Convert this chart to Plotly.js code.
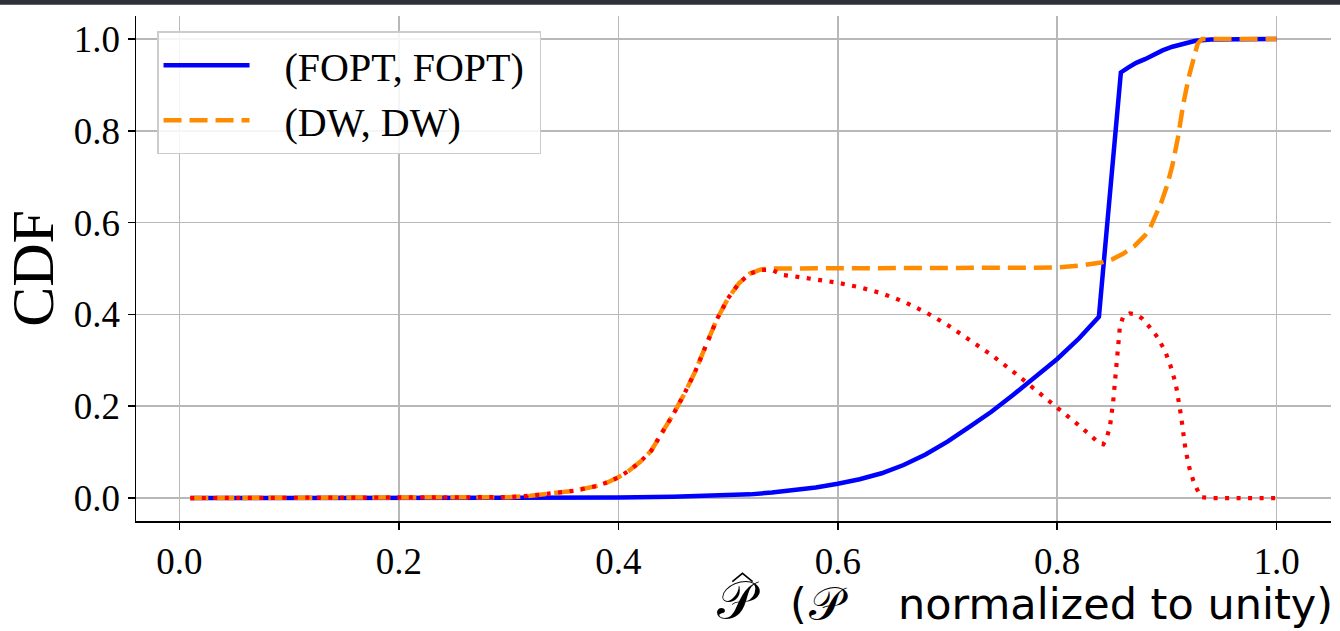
<!DOCTYPE html>
<html>
<head>
<meta charset="utf-8">
<script src="https://cdn.plot.ly/plotly-3.0.1.min.js"></script>
<style>
  html, body { margin: 0; padding: 0; background: #ffffff; }
  #chart { width: 1340px; height: 631px; }
</style>
</head>
<body>
<div id="chart"></div>
<script>
// CDF of the normalized quantity for the FOPT and DW pairs
const fopt_x = [0.01, 0.1, 0.2, 0.3, 0.35, 0.4, 0.45, 0.50, 0.52, 0.54, 0.56, 0.58, 0.60, 0.62, 0.64, 0.66, 0.68, 0.70, 0.72, 0.74, 0.76, 0.78, 0.80, 0.82, 0.838, 0.846, 0.858, 0.865, 0.872, 0.880, 0.888, 0.896, 0.905, 0.915, 0.926, 0.94, 0.96, 1.0];
const fopt_y = [0, 0, 0, 0, 0.0005, 0.001, 0.003, 0.006, 0.008, 0.012, 0.017, 0.023, 0.031, 0.041, 0.054, 0.072, 0.095, 0.123, 0.155, 0.188, 0.225, 0.264, 0.303, 0.348, 0.395, 0.608, 0.927, 0.938, 0.948, 0.956, 0.966, 0.975, 0.983, 0.990, 0.996, 0.999, 1.0, 1.0];

const dw_x = [0.01, 0.1, 0.2, 0.25, 0.30, 0.32, 0.34, 0.36, 0.38, 0.39, 0.40, 0.41, 0.42, 0.43, 0.44, 0.45, 0.46, 0.47, 0.48, 0.49, 0.50, 0.51, 0.52, 0.53, 0.54, 0.6, 0.7, 0.78, 0.80, 0.82, 0.84, 0.85, 0.86, 0.87, 0.88, 0.885, 0.89, 0.895, 0.90, 0.905, 0.91, 0.915, 0.92, 0.925, 0.928, 0.932, 0.95, 1.0];
const dw_y = [0, 0, 0, 0.0005, 0.002, 0.005, 0.010, 0.016, 0.026, 0.034, 0.045, 0.060, 0.079, 0.103, 0.143, 0.182, 0.226, 0.275, 0.333, 0.390, 0.435, 0.468, 0.489, 0.498, 0.500, 0.500, 0.500, 0.500, 0.502, 0.506, 0.513, 0.520, 0.532, 0.548, 0.572, 0.590, 0.615, 0.645, 0.680, 0.725, 0.785, 0.860, 0.918, 0.964, 0.990, 1.0, 1.0, 1.0];

// gap between the two CDFs
const gap_x = [0.01, 0.1, 0.2, 0.25, 0.30, 0.32, 0.34, 0.36, 0.38, 0.39, 0.40, 0.41, 0.42, 0.43, 0.44, 0.45, 0.46, 0.47, 0.48, 0.49, 0.50, 0.51, 0.52, 0.53, 0.54, 0.55, 0.56, 0.58, 0.60, 0.62, 0.64, 0.66, 0.68, 0.70, 0.72, 0.74, 0.76, 0.78, 0.80, 0.82, 0.838, 0.842, 0.845, 0.848, 0.851, 0.854, 0.857, 0.860, 0.866, 0.872, 0.878, 0.884, 0.890, 0.898, 0.903, 0.908, 0.911, 0.913, 0.915, 0.917, 0.921, 0.925, 0.931, 0.94, 1.0];
const gap_y = [0, 0, 0, 0.0005, 0.002, 0.005, 0.010, 0.016, 0.026, 0.034, 0.045, 0.060, 0.079, 0.103, 0.143, 0.182, 0.226, 0.275, 0.333, 0.390, 0.435, 0.468, 0.489, 0.497, 0.497, 0.486, 0.483, 0.477, 0.469, 0.459, 0.446, 0.428, 0.405, 0.377, 0.345, 0.312, 0.275, 0.236, 0.199, 0.158, 0.120, 0.117, 0.130, 0.155, 0.210, 0.300, 0.370, 0.395, 0.402, 0.400, 0.390, 0.373, 0.355, 0.322, 0.290, 0.249, 0.210, 0.177, 0.140, 0.104, 0.060, 0.031, 0.002, 0, 0];

const tick_vals = [0, 0.2, 0.4, 0.6, 0.8, 1.0];

const serif = '"Liberation Serif", "DejaVu Serif", serif';
const sans = '"DejaVu Sans", sans-serif';
const NB = '\u00a0\u00a0\u00a0';

const traces = [
  {
    x: fopt_x, y: fopt_y, type: 'scatter', mode: 'lines',
    name: NB + '(FOPT, FOPT)\u00a0', legendgroup: 'a',
    line: { color: '#0000ff', width: 4.5 }
  },
  {
    x: dw_x, y: dw_y, type: 'scatter', mode: 'lines',
    name: NB + '(DW, DW)', legendgroup: 'b',
    line: { color: '#ff8c00', width: 4.5, dash: '18px,8px' }
  },
  {
    x: gap_x, y: gap_y, type: 'scatter', mode: 'lines',
    name: 'gap', showlegend: false,
    line: { color: '#ff0000', width: 4.2, dash: '4px,7.5px' }
  }
];

const axisCommon = {
  showline: true, linecolor: '#000000', linewidth: 1.5,
  mirror: false, zeroline: false,
  showgrid: true, gridcolor: '#b8b8b8', gridwidth: 1.5,
  ticks: 'outside', ticklen: 7, tickwidth: 1.5, tickcolor: '#000000',
  tickvals: tick_vals, tickformat: '.1f',
  tickfont: { family: serif, size: 37, color: '#000000' }
};

const layout = {
  width: 1340, height: 631,
  margin: { l: 136, r: 9, t: 16, b: 110 },
  paper_bgcolor: '#ffffff', plot_bgcolor: '#ffffff',
  showlegend: true,
  xaxis: Object.assign({}, axisCommon, { range: [-0.0395, 1.0495] }),
  yaxis: Object.assign({}, axisCommon, {
    range: [-0.05, 1.05],
    title: { text: 'CDF', font: { family: serif, size: 60, color: '#000000' }, standoff: 12 }
  }),
  legend: {
    x: 0.0176, y: 0.97, xanchor: 'left', yanchor: 'top',
    bgcolor: 'rgba(255,255,255,0.85)', bordercolor: '#cccccc', borderwidth: 1.5,
    font: { family: serif, size: 40, color: '#000000' },
    itemwidth: 86, tracegroupgap: 0
  },
  annotations: [
    {
      // the hatted symbol (accent drawn as a shape below)
      xref: 'paper', yref: 'paper', x: 0.4845, y: -0.156,
      xanchor: 'left', yanchor: 'middle', showarrow: false,
      text: '𝒫',
      font: { family: sans, size: 52, color: '#000000' }
    },
    {
      xref: 'paper', yref: 'paper', x: 0.5456, y: -0.1644,
      xanchor: 'left', yanchor: 'middle', showarrow: false,
      text: '(',
      font: { family: sans, size: 43, color: '#000000' }
    },
    {
      xref: 'paper', yref: 'paper', x: 0.5615, y: -0.163,
      xanchor: 'left', yanchor: 'middle', showarrow: false,
      text: '𝒫',
      font: { family: sans, size: 47, color: '#000000' }
    },
    {
      xref: 'paper', yref: 'paper', x: 1.0033, y: -0.1644,
      xanchor: 'right', yanchor: 'middle', showarrow: false,
      text: 'normalized to unity)',
      font: { family: sans, size: 43, color: '#000000' }
    }
  ],
  shapes: [
    {
      // top frame strip
      type: 'rect', xref: 'paper', yref: 'paper', layer: 'above',
      x0: -0.2, x1: 1.2, y0: 1.0225, y1: 1.05,
      fillcolor: '#2f3138', line: { width: 0 }
    },
    {
      // circumflex accent over the hatted symbol
      type: 'path', xref: 'paper', yref: 'paper', layer: 'above',
      path: 'M 0.4990,-0.1200 L 0.5075,-0.1035 L 0.5160,-0.1200',
      line: { color: '#000000', width: 1.6 }
    }
  ]
};

Plotly.newPlot('chart', traces, layout, { staticPlot: true, displayModeBar: false });
</script>
</body>
</html>
